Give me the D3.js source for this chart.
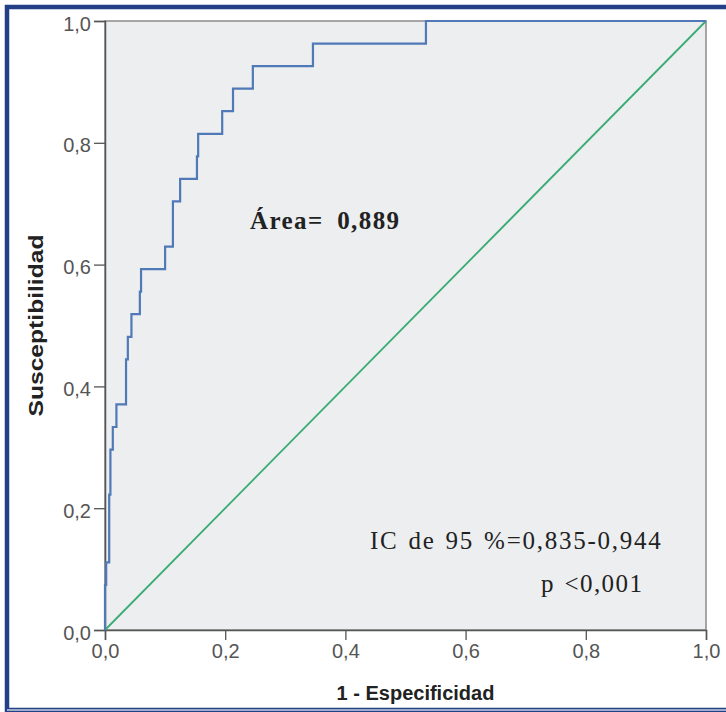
<!DOCTYPE html>
<html>
<head>
<meta charset="utf-8">
<script src="https://cdn.jsdelivr.net/npm/d3@7"></script>
<style>
    body { margin: 0; background: #ffffff; }
    svg { display: block; }
    .tick text { font-family: "Liberation Sans Narrow", "Liberation Sans", Arial, sans-serif; font-size: 20px; fill: #555555; }
    .label { font-family: "Liberation Sans", Arial, sans-serif; font-weight: bold; font-size: 20px; fill: #222222; }
    .note { font-family: "Liberation Serif", "Times New Roman", serif; font-size: 25px; fill: #222222; letter-spacing: 1.4px; word-spacing: 2px; }
</style>
</head>
<body>
<svg id="svgROC" width="726" height="712"></svg>
<script>
// ROC steps: top of each vertical segment (1 - especificidad, susceptibilidad)
var fpr = [0, 0, 0.002, 0.007, 0.009, 0.013, 0.019, 0.035, 0.038, 0.044, 0.058, 0.060,
           0.100, 0.113, 0.125, 0.153, 0.155, 0.195, 0.213, 0.246, 0.346, 0.534, 1];
var tprCount = [0, 2, 3, 6, 8, 9, 10, 12, 13, 14, 15, 16,
                17, 19, 20, 21, 22, 23, 24, 25, 26, 27, 27];
var positives = 27;

var tickValues = [0, 0.2, 0.4, 0.6, 0.8, 1.0];
var areaText = "Área= 0,889";
var ciText = "IC de 95 %=0,835-0,944";
var pText = "p <0,001";

function rocChart() {
    /*
    Draws the ROC curve with the reference diagonal
    */

    var padding = { top: 21, right: 20, bottom: 82, left: 105 };

    var svgWidth = 726;
    var svgHeight = 712;
    var chartWidth = 706 - padding.left;
    var chartHeight = svgHeight - padding.top - padding.bottom;

    var svg = d3.select("#svgROC");

    // Outer frame of the picture
    svg.append("rect")
        .attr("x", 7).attr("y", 7)
        .attr("width", svgWidth).attr("height", 703)
        .attr("fill", "none")
        .attr("stroke", "#233f86")
        .attr("stroke-width", 4.5);
    svg.append("line")
        .attr("x1", 7).attr("x2", svgWidth)
        .attr("y1", 710).attr("y2", 710)
        .attr("stroke", "#9aabcb")
        .attr("stroke-width", 2);

    var chart = svg.append("g")
        .attr("transform", `translate(${padding.left}, ${padding.top})`);

    var xScale = d3.scaleLinear().domain([0, 1]).range([0, chartWidth]);
    var yScale = d3.scaleLinear().domain([0, 1]).range([chartHeight, 0]);

    // Plot background
    chart.append("rect")
        .attr("width", chartWidth)
        .attr("height", chartHeight)
        .attr("fill", "#eceef0")
        .attr("stroke", "#8a8a8a")
        .attr("stroke-width", 1.5);

    var fmt = d => d3.format(".1f")(d).replace(".", ",");

    // Axes
    chart.append("g")
        .attr("class", "axis")
        .attr("transform", `translate(0, ${chartHeight})`)
        .call(d3.axisBottom(xScale).tickValues(tickValues).tickFormat(fmt).tickSize(10).tickPadding(4))
        .call(g => g.select(".domain").attr("stroke", "#555").attr("stroke-width", 1.5))
        .call(g => g.selectAll(".tick line").attr("stroke", "#555").attr("stroke-width", 1.3));

    chart.append("g")
        .attr("class", "axis")
        .call(d3.axisLeft(yScale).tickValues(tickValues).tickFormat(fmt).tickSize(11).tickPadding(3))
        .call(g => g.select(".domain").attr("stroke", "#555").attr("stroke-width", 1.5))
        .call(g => g.selectAll(".tick line").attr("stroke", "#555").attr("stroke-width", 1.3))
        .call(g => g.selectAll(".tick text").attr("dy", "0.45em"));

    // Diagonal reference line
    chart.append("line")
        .attr("x1", xScale(0)).attr("y1", yScale(0))
        .attr("x2", xScale(1)).attr("y2", yScale(1))
        .attr("stroke", "#3aab74")
        .attr("stroke-width", 1.8);

    // ROC curve
    var points = fpr.map((f, i) => [f, tprCount[i] / positives]);
    var line = d3.line()
        .x(d => xScale(d[0]))
        .y(d => yScale(d[1]))
        .curve(d3.curveStepAfter);

    chart.append("path")
        .datum(points)
        .attr("d", line)
        .attr("fill", "none")
        .attr("stroke", "#5079b8")
        .attr("stroke-width", 2.2);

    // Axis labels
    svg.append("text")
        .attr("class", "label")
        .attr("x", padding.left + chartWidth / 2 + 10)
        .attr("y", 700)
        .attr("font-size", "22px")
        .attr("text-anchor", "middle")
        .text("1 - Especificidad");

    svg.append("text")
        .attr("class", "label")
        .attr("transform", `translate(43, ${padding.top + chartHeight / 2}) rotate(-90)`)
        .attr("text-anchor", "middle")
        .attr("textLength", 182)
        .attr("lengthAdjust", "spacingAndGlyphs")
        .text("Susceptibilidad");

    // Annotations
    svg.append("text")
        .attr("class", "note")
        .attr("x", 250).attr("y", 229)
        .attr("font-weight", "bold")
        .style("word-spacing", "6px")
        .text(areaText);

    svg.append("text")
        .attr("class", "note")
        .attr("x", 370).attr("y", 549)
        .style("letter-spacing", "1.75px")
        .text(ciText);

    svg.append("text")
        .attr("class", "note")
        .attr("x", 541).attr("y", 592)
        .text(pText);
}

rocChart();
</script>
</body>
</html>
